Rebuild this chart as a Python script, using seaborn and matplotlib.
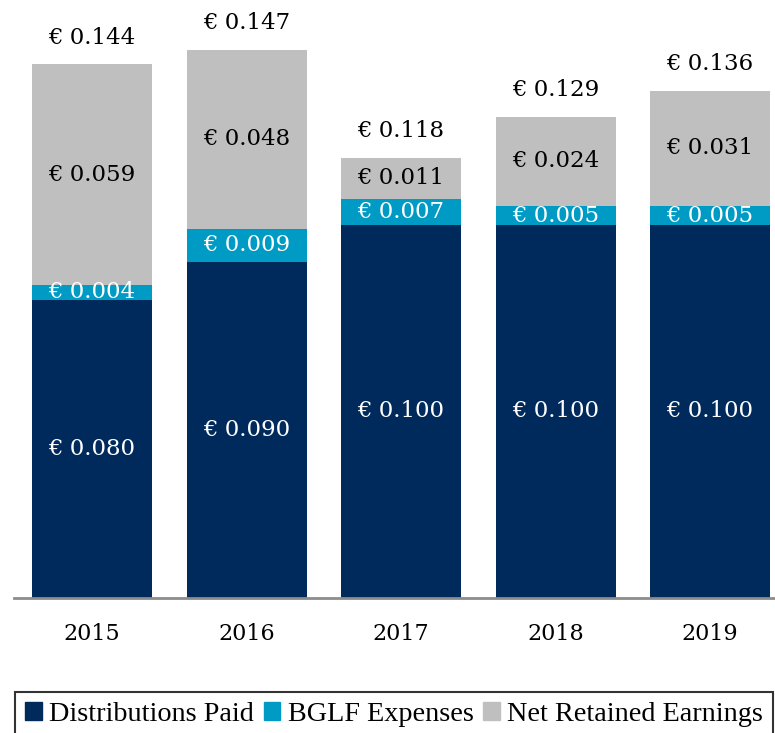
import numpy as np
import pandas as pd
import seaborn as sns
from matplotlib import pyplot as plt
from matplotlib.patches import Patch

years = ["2015", "2016", "2017", "2018", "2019"]
distributions = [0.080, 0.090, 0.100, 0.100, 0.100]
expenses = [0.004, 0.009, 0.007, 0.005, 0.005]
retained = [0.059, 0.048, 0.011, 0.024, 0.031]
totals = [0.144, 0.147, 0.118, 0.129, 0.136]

navy = "#002a5c"
teal = "#009bc4"
grey = "#bfbfbf"

sns.set_style("white")
plt.rcParams["font.family"] = ["DejaVu Serif"]
plt.rcParams["text.color"] = "black"
plt.rcParams["xtick.color"] = "black"

df = pd.DataFrame({"year": years, "dist": distributions, "exp": expenses, "net": retained})
# cumulative tops, drawn back to front so the layers stack
df["top_exp"] = df["dist"] + df["exp"]
df["top_net"] = df["top_exp"] + df["net"]

fig = plt.figure(figsize=(7.75, 7.33), dpi=100)
ax = fig.add_axes([14 / 775, 1 - 598 / 733, 1 - 14 / 775, 597 / 733])

for col, c in [("top_net", grey), ("top_exp", teal), ("dist", navy)]:
    sns.barplot(data=df, x="year", y=col, color=c, width=0.776, saturation=1,
                edgecolor="none", ax=ax)

ax.set_xlim(-0.505, 4.42)
ax.set_ylim(0, 0.16)
ax.set_xlabel("")
ax.set_ylabel("")
ax.set_yticks([])
for s in ["top", "left", "right"]:
    ax.spines[s].set_visible(False)
ax.spines["bottom"].set_color("#8c8c8c")
ax.spines["bottom"].set_linewidth(2)
ax.tick_params(axis="x", length=0, pad=18, labelsize=16)

fs = 16.5
for i in range(len(years)):
    d, e, n = distributions[i], expenses[i], retained[i]
    ax.text(i, d / 2, f"€ {d:.3f}", ha="center", va="center", color="white", fontsize=fs)
    ax.text(i, d + e / 2, f"€ {e:.3f}", ha="center", va="center", color="white", fontsize=fs)
    ax.text(i, d + e + n / 2, f"€ {n:.3f}", ha="center", va="center", color="black", fontsize=fs)
    ax.annotate(f"€ {totals[i]:.3f}", (i, d + e + n), xytext=(0, 11),
                textcoords="offset points", ha="center", va="bottom", fontsize=fs)

handles = [Patch(color=navy, label="Distributions Paid"),
           Patch(color=teal, label="BGLF Expenses"),
           Patch(color=grey, label="Net Retained Earnings")]
leg = fig.legend(handles=handles, loc="upper left", bbox_to_anchor=(15 / 775, 1 - 692 / 733),
                 ncol=3, frameon=True, fancybox=False, handlelength=0.6, handleheight=0.6,
                 handletextpad=0.25, columnspacing=0.35, borderaxespad=0, borderpad=0.35,
                 prop={"family": "Liberation Serif", "size": 20.3})
leg.get_frame().set_edgecolor("black")
leg.get_frame().set_linewidth(1.5)

plt.savefig("out.png", dpi=100)
